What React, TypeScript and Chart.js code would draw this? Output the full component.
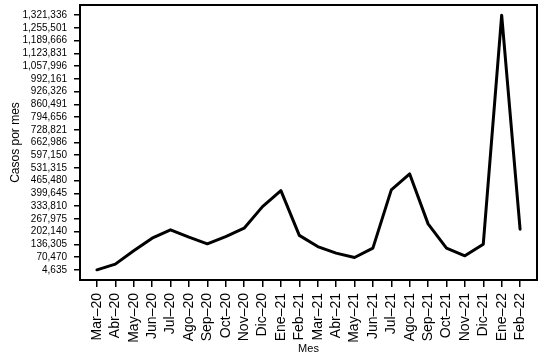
import React, { useEffect, useRef } from "react";
import { Chart, registerables } from "chart.js";

Chart.register(...registerables);

const months = [
  "Mar–20", "Abr–20", "May–20", "Jun–20", "Jul–20", "Ago–20", "Sep–20", "Oct–20",
  "Nov–20", "Dic–20", "Ene–21", "Feb–21", "Mar–21", "Abr–21", "May–21", "Jun–21",
  "Jul–21", "Ago–21", "Sep–21", "Oct–21", "Nov–21", "Dic–21", "Ene–22", "Feb–22",
];

const casos = [
  4635, 34000, 102800, 168300, 211200, 173500, 138900, 176600,
  220000, 331500, 414100, 182800, 125000, 90800, 68200, 116700,
  417800, 500400, 242200, 116700, 76900, 137300, 1321336, 214800,
];

const yTicks = [
  4635, 70470, 136305, 202140, 267975, 333810, 399645, 465480, 531315, 597150,
  662986, 728821, 794656, 860491, 926326, 992161, 1057996, 1123831, 1189666,
  1255501, 1321336,
];

const FONT = "'Liberation Sans', Arial, Helvetica, sans-serif";

export default function App() {
  const ref = useRef<HTMLCanvasElement>(null);

  useEffect(() => {
    document.body.style.margin = "0";
    const canvas = ref.current;
    if (!canvas) return;

    const dMin = Math.min(...casos);
    const dMax = Math.max(...casos);
    const ext = (dMax - dMin) * 0.04;
    const xExt = (months.length - 1) * 0.04;

    const boxPlugin = {
      id: "boxPlugin",
      afterDatasetsDraw(chart: any) {
        const { ctx, chartArea } = chart;
        ctx.save();
        ctx.strokeStyle = "#000";
        ctx.lineWidth = 2;
        ctx.strokeRect(
          chartArea.left,
          chartArea.top,
          chartArea.right - chartArea.left,
          chartArea.bottom - chartArea.top
        );
        ctx.restore();
      },
    };

    const chart = new Chart(canvas, {
      type: "line",
      data: {
        datasets: [
          {
            data: casos.map((v, i) => ({ x: i, y: v })),
            borderColor: "#000",
            borderWidth: 3,
            pointRadius: 0,
            tension: 0,
            fill: false,
            borderJoinStyle: "round",
            borderCapStyle: "round",
          },
        ],
      },
      options: {
        responsive: false,
        animation: false,
        layout: { padding: { top: 5, right: 3, left: 0, bottom: 0 } },
        plugins: {
          legend: { display: false },
          tooltip: { enabled: false },
        },
        scales: {
          x: {
            type: "linear",
            min: -xExt,
            max: months.length - 1 + xExt,
            afterBuildTicks: (s: any) => {
              s.ticks = months.map((_, i) => ({ value: i }));
            },
            afterFit: (s: any) => {
              s.height = 77;
              s.paddingLeft = 0;
              s.paddingRight = 0;
            },
            ticks: {
              autoSkip: false,
              minRotation: 90,
              maxRotation: 90,
              padding: 6,
              color: "#000",
              font: { family: FONT, size: 14 },
              callback: (v: any) => months[Math.round(Number(v))] ?? "",
            },
            grid: {
              drawOnChartArea: false,
              drawTicks: true,
              tickLength: 7,
              color: "#000",
              lineWidth: 1.5,
            },
            border: { display: false },
            title: {
              display: true,
              text: "Mes",
              color: "#000",
              font: { family: FONT, size: 11 },
              padding: { top: 0, bottom: 1 },
            },
          },
          y: {
            type: "linear",
            min: dMin - ext,
            max: dMax + ext,
            afterBuildTicks: (s: any) => {
              s.ticks = yTicks.map((v) => ({ value: v }));
            },
            afterFit: (s: any) => {
              s.width = 80;
              s.paddingTop = 0;
              s.paddingBottom = 0;
            },
            ticks: {
              autoSkip: false,
              padding: 7,
              color: "#000",
              font: { family: FONT, size: 10 },
              callback: (_v: any, i: number) => yTicks[i].toLocaleString("en-US"),
            },
            grid: {
              drawOnChartArea: false,
              drawTicks: true,
              tickLength: 6,
              color: "#000",
              lineWidth: 1.5,
            },
            border: { display: false },
            title: {
              display: true,
              text: "Casos por mes",
              color: "#000",
              font: { family: FONT, size: 12 },
              padding: { top: 8, bottom: 0 },
            },
          },
        },
      },
      plugins: [boxPlugin],
    } as any);

    return () => chart.destroy();
  }, []);

  return (
    <div style={{ width: 540, height: 357 }}>
      <canvas ref={ref} width={540} height={357} style={{ display: "block" }} />
    </div>
  );
}
